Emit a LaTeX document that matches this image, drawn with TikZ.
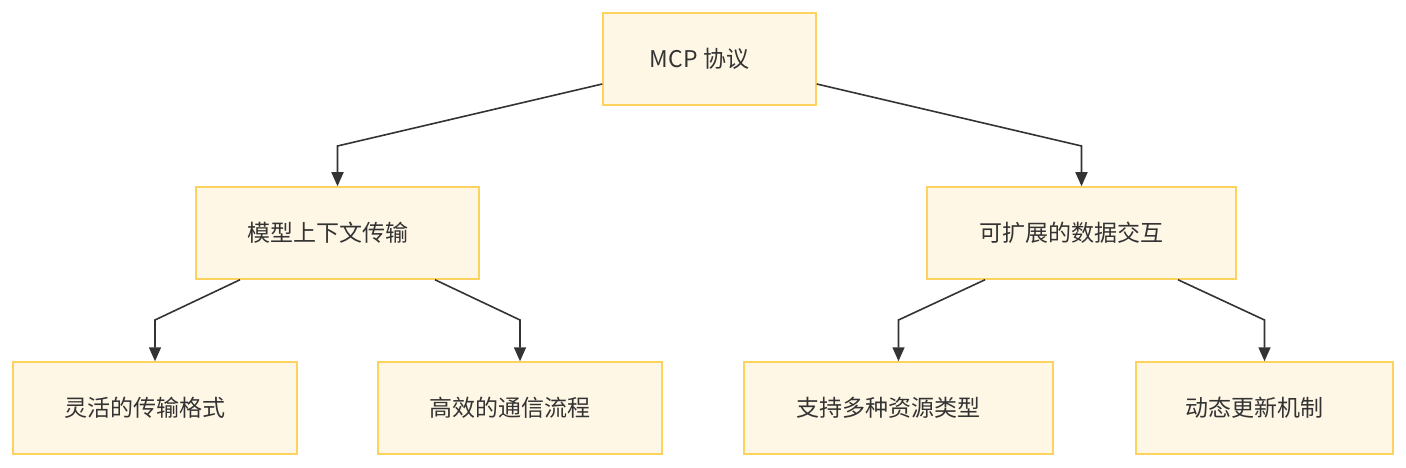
\documentclass[tikz,border=0pt]{standalone}
\usepackage{fontspec}
\setmainfont{Noto Sans CJK SC}
\usetikzlibrary{arrows.meta}
\definecolor{boxfill}{HTML}{FFF7E6}
\definecolor{boxline}{HTML}{FCD35E}
\definecolor{ink}{HTML}{333333}
\tikzset{
	topic/.style={draw=boxline, fill=boxfill, line width=1.5pt, text=ink,
		minimum height=92pt, font=\fontsize{23}{27}\selectfont, inner sep=0pt,
		execute at begin node={\kern-20pt}},
	link/.style={draw=ink, line width=1.6pt, -{Triangle[width=12pt,length=14pt]}}
}
\begin{document}
\begin{tikzpicture}[x=1pt,y=-1pt]
	\useasboundingbox (0,0) rectangle (1406,468);
	\node[topic, minimum width=213pt] (mcp) at (709.5,59) {MCP 协议};
	\node[topic, minimum width=283pt] (ctx) at (337.5,233) {模型上下文传输};
	\node[topic, minimum width=309pt] (data) at (1081.5,233) {可扩展的数据交互};
	\node[topic, minimum width=284pt] (fmt) at (155,408) {灵活的传输格式};
	\node[topic, minimum width=284pt] (flow) at (520,408) {高效的通信流程};
	\node[topic, minimum width=309pt] (res) at (898.5,408) {支持多种资源类型};
	\node[topic, minimum width=257pt] (upd) at (1264.5,408) {动态更新机制};
	\coordinate (k1) at (337.5,146);
	\coordinate (k2) at (1081.5,146);
	\coordinate (k3) at (155,320);
	\coordinate (k4) at (520,320);
	\coordinate (k5) at (898.5,320);
	\coordinate (k6) at (1264.5,320);
	\draw[link] ([yshift=-25pt]mcp.west) -- (k1) -- (ctx.north);
	\draw[link] ([yshift=-25pt]mcp.east) -- (k2) -- (data.north);
	\draw[link] ([xshift=-97.5pt]ctx.south) -- (k3) -- (fmt.north);
	\draw[link] ([xshift=97.5pt]ctx.south) -- (k4) -- (flow.north);
	\draw[link] ([xshift=-96.5pt]data.south) -- (k5) -- (res.north);
	\draw[link] ([xshift=96.5pt]data.south) -- (k6) -- (upd.north);
\end{tikzpicture}
\end{document}
